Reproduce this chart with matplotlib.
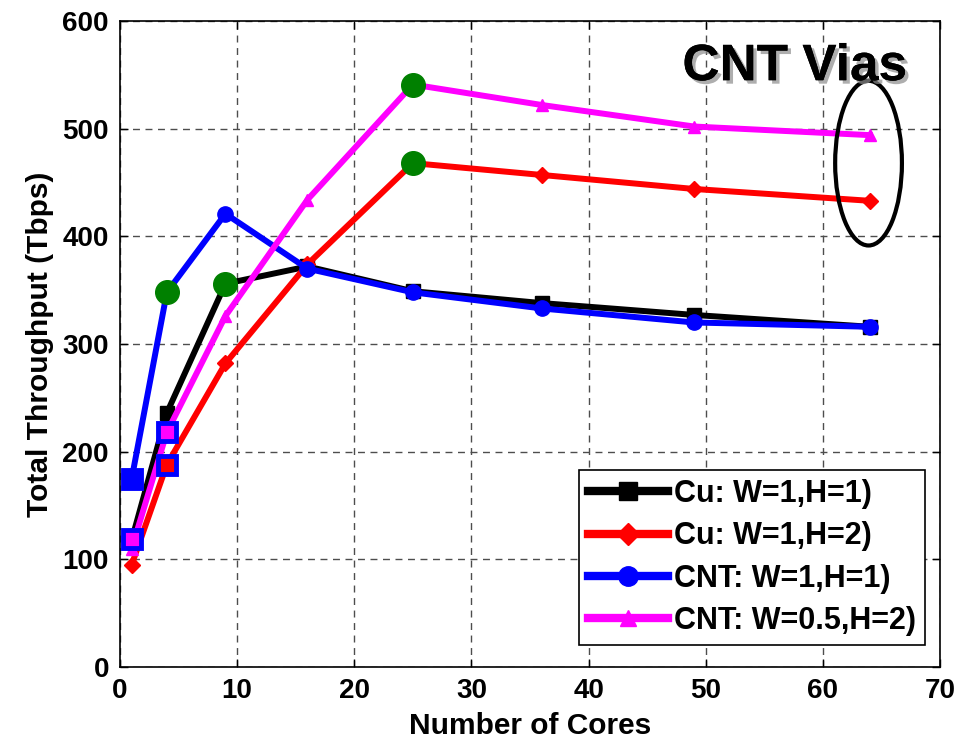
import matplotlib
matplotlib.use("Agg")
import matplotlib.pyplot as plt
import matplotlib.patheffects as pe
from matplotlib.patches import Ellipse

plt.rcParams['font.family'] = ['Liberation Sans', 'DejaVu Sans']

cores = [1, 4, 9, 16, 25, 36, 49, 64]
cu_w1_h1 = [118, 236, 356, 372, 349, 338, 327, 316]
cu_w1_h2 = [95, 188, 282, 374, 468, 457, 444, 433]
cnt_w1_h1 = [175, 348, 421, 370, 348, 333, 320, 316]
cnt_w05_h2 = [110, 218, 326, 434, 541, 522, 502, 494]

labels = ['Cu: W=1,H=1)', 'Cu: W=1,H=2)', 'CNT: W=1,H=1)', 'CNT: W=0.5,H=2)']
colors = ['black', 'red', 'blue', 'magenta']
markers = ['s', 'D', 'o', '^']
msizes = [10, 8, 11, 9]

# highlighted peak points
peak_x = [4, 9, 25, 25]
peak_y = [348, 356, 541, 468]

# square highlights at small core counts (x, y, face colour)
sq_x = [1, 1, 4, 4]
sq_y = [175, 119, 218, 188]
sq_face = ['blue', 'magenta', 'magenta', 'red']

W, H = 972, 740
fig = plt.figure(figsize=(W / 100, H / 100), dpi=100)
ax = fig.add_axes([120 / W, 1 - 667 / H, 820 / W, 646 / H])

series = [cu_w1_h1, cu_w1_h2, cnt_w1_h1, cnt_w05_h2]
for ys, c, m, ms, lab in zip(series, colors, markers, msizes, labels):
    ax.plot(cores, ys, color=c, lw=4.3, marker=m, markersize=ms,
            markerfacecolor=c, markeredgecolor=c, label=lab, zorder=3)

for x, y, fc in zip(sq_x, sq_y, sq_face):
    ax.plot([x], [y], ls='none', marker='s', markersize=13,
            markerfacecolor=fc, markeredgecolor='blue', markeredgewidth=3.5, zorder=4)

ax.plot(peak_x, peak_y, ls='none', marker='o', markersize=17,
        markerfacecolor='#008000', markeredgecolor='#008000', zorder=5)

ax.add_patch(Ellipse((63.9, 468), 5.7, 153, fill=False, edgecolor='black', lw=3, zorder=6))

ax.text(57.6, 545, 'CNT Vias', fontsize=37, fontweight='bold', ha='center', va='baseline',
        path_effects=[pe.withSimplePatchShadow(offset=(2.5, -2.5), shadow_rgbFace='0.55', alpha=0.7),
                      pe.Normal()], zorder=7)

ax.set_xlim(0, 70)
ax.set_ylim(0, 600)
ax.set_xticks(range(0, 71, 10))
ax.set_yticks(range(0, 601, 100))
ax.grid(True, color='0.3', ls=(0, (5, 4)), lw=1)
ax.set_axisbelow(True)
ax.tick_params(direction='in', top=True, right=True, labelsize=20, length=6, width=1, pad=8)
for lab in ax.get_xticklabels() + ax.get_yticklabels():
    lab.set_fontweight('bold')
for s in ax.spines.values():
    s.set_linewidth(1.2)

ax.set_xlabel('Number of Cores', fontsize=21.5, fontweight='bold', labelpad=6)
ax.set_ylabel('Total Throughput (Tbps)', fontsize=21.5, fontweight='bold', labelpad=6)

leg = ax.legend(loc='lower right', bbox_to_anchor=(925 / W, 1 - 645 / H),
                bbox_transform=fig.transFigure, borderaxespad=0,
                prop={'weight': 'bold', 'size': 22},
                handlelength=2.6, handletextpad=0.2, borderpad=0.3, labelspacing=0.4,
                fancybox=False, edgecolor='black', framealpha=1)
leg.get_frame().set_linewidth(1.2)
for h, ms in zip(leg.get_lines(), [13, 11, 14, 12]):
    h.set_linewidth(6)
    h.set_markersize(ms)

fig.savefig('out.png', dpi=100)
